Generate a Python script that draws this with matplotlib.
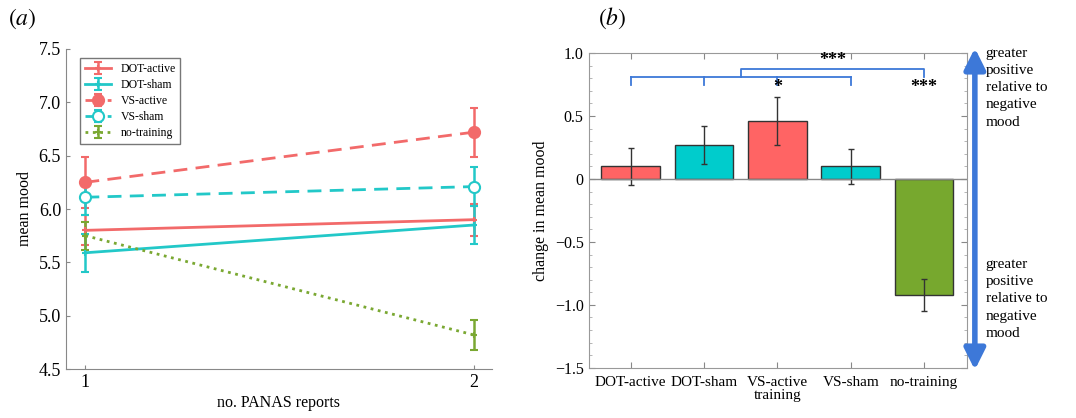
import numpy as np
import matplotlib.pyplot as plt

plt.rcParams['font.family'] = ['Liberation Serif', 'DejaVu Serif']
plt.rcParams['mathtext.fontset'] = 'stix'

# panel (a): mean mood at each PANAS report
reports = [1, 2]
groups = ['DOT-active', 'DOT-sham', 'VS-active', 'VS-sham', 'no-training']
mood_mean = {
    'DOT-active': [5.80, 5.90],
    'DOT-sham': [5.59, 5.85],
    'VS-active': [6.25, 6.72],
    'VS-sham': [6.11, 6.21],
    'no-training': [5.75, 4.82],
}
mood_err = {
    'DOT-active': [0.14, 0.15],
    'DOT-sham': [0.18, 0.18],
    'VS-active': [0.24, 0.23],
    'VS-sham': [0.17, 0.18],
    'no-training': [0.13, 0.14],
}

# panel (b): change in mean mood
change = [0.10, 0.27, 0.46, 0.10, -0.92]
change_err = [0.15, 0.15, 0.19, 0.14, 0.125]

red = '#f26a6a'
teal = '#22c8c8'
green = '#7aa832'
bar_cols = ['#ff6464', '#00cccc', '#ff6464', '#00cccc', '#77a82e']
blue = '#3d78d8'

styles = {
    'DOT-active': dict(color=red, ls='-', marker='+', ms=5, mfc=red),
    'DOT-sham': dict(color=teal, ls='-', marker='+', ms=5, mfc=teal),
    'VS-active': dict(color=red, ls=(0, (5, 3)), marker='o', ms=8, mfc=red),
    'VS-sham': dict(color=teal, ls=(0, (5, 3)), marker='o', ms=8, mfc='white'),
    'no-training': dict(color=green, ls=':', marker='+', ms=5, mfc=green),
}

fig = plt.figure(figsize=(10.76, 4.18), dpi=100)

ax1 = fig.add_axes([0.0613, 0.117, 0.3957, 0.766])
for g in groups:
    st = styles[g]
    ax1.errorbar(reports, mood_mean[g], yerr=mood_err[g], color=st['color'], ls=st['ls'],
                 marker=st['marker'], ms=st['ms'], mfc=st['mfc'], mec=st['color'],
                 mew=1.5, lw=2, capsize=3, elinewidth=1.8, label=g)
ax1.set_xlim(0.95, 2.046)
ax1.set_ylim(4.5, 7.5)
ax1.set_xticks(reports)
ax1.set_yticks(np.arange(4.5, 7.51, 0.5))
ax1.set_yticklabels([f'{v:.1f}' for v in np.arange(4.5, 7.51, 0.5)])
for s in ['top', 'right']:
    ax1.spines[s].set_visible(False)
for s in ['left', 'bottom']:
    ax1.spines[s].set_color('#888888')
ax1.tick_params(direction='in', labelsize=13, length=3, color='#888888')
ax1.set_xlabel('no. PANAS reports', fontsize=11.5, labelpad=3)
ax1.set_ylabel('mean mood', fontsize=11.5)
leg = ax1.legend(loc='upper left', bbox_to_anchor=(0.02, 0.99), fontsize=8.5, frameon=True,
                 fancybox=False, edgecolor='#555555', handlelength=2.2, labelspacing=0.35,
                 borderpad=0.4)
leg.get_frame().set_linewidth(1.0)
fig.text(0.007, 0.94, r'$(a)$', fontsize=17)

ax2 = fig.add_axes([0.547, 0.120, 0.352, 0.753])
x = np.arange(len(groups))
ax2.bar(x, change, width=0.8, color=bar_cols, edgecolor='#333333', linewidth=1)
ax2.errorbar(x, change, yerr=change_err, fmt='none', ecolor='#333333', elinewidth=1,
             capsize=2.5)
ax2.axhline(0, color='#888888', lw=1)
ax2.set_xlim(-0.575, 4.59)
ax2.set_ylim(-1.5, 1.0)
ax2.set_xticks(x)
ax2.set_xticklabels(groups, fontsize=11)
ax2.set_yticks([-1.5, -1.0, -0.5, 0, 0.5, 1.0])
ax2.set_yticklabels(['\u22121.5', '\u22121.0', '\u22120.5', '0', '0.5', '1.0'], fontsize=11.5)
ax2.set_yticks(np.arange(-1.5, 1.01, 0.1), minor=True)
ax2.tick_params(direction='in', length=4, color='#888888', top=True, right=True)
ax2.tick_params(axis='x', pad=6)
ax2.tick_params(which='minor', direction='in', length=2, color='#aaaaaa', right=True)
for s in ax2.spines.values():
    s.set_color('#999999')
ax2.set_ylabel('change in mean mood', fontsize=11.5)
ax2.set_xlabel('training', fontsize=11, labelpad=0)

# significance brackets
ax2.plot([0, 3], [0.81, 0.81], color=blue, lw=1.3)
for xi in [0, 1, 2, 3]:
    ax2.plot([xi, xi], [0.81, 0.745], color=blue, lw=1.3)
ax2.plot([1.5, 1.5, 4, 4], [0.81, 0.873, 0.873, 0.81], color=blue, lw=1.3)
ax2.text(2.75, 0.875, '***', ha='center', va='bottom', fontsize=13, fontweight='bold')
ax2.text(2, 0.66, '*', ha='center', va='bottom', fontsize=13, fontweight='bold')
ax2.text(4, 0.66, '***', ha='center', va='bottom', fontsize=13, fontweight='bold')

ax2.annotate('', xy=(0.906, 0.885), xytext=(0.906, 0.115), xycoords='figure fraction',
             arrowprops=dict(arrowstyle='<|-|>, head_length=0.9, head_width=0.45',
                             color=blue, lw=4, mutation_scale=14, shrinkA=0, shrinkB=0))
note = 'greater\npositive\nrelative to\nnegative\nmood'
fig.text(0.916, 0.888, note, fontsize=11, va='top', linespacing=1.42)
fig.text(0.916, 0.383, note, fontsize=11, va='top', linespacing=1.42)
fig.text(0.556, 0.94, r'$(b)$', fontsize=17)

fig.savefig('out.png', dpi=100)
